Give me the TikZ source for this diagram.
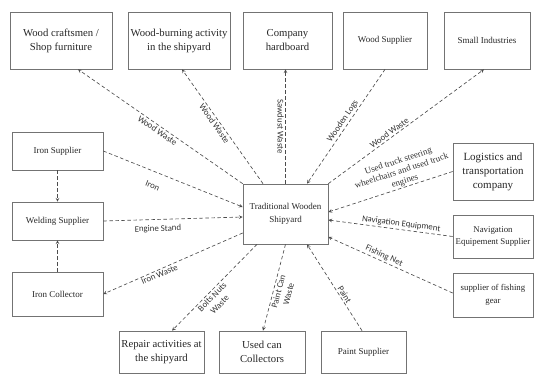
\documentclass[tikz,border=0pt]{standalone}
\usepackage{fontspec}
\setmainfont{Liberation Serif}
\newfontfamily\lblfont{Carlito}
\begin{document}
\begin{tikzpicture}[>=stealth, x=1pt, y=-1pt,
    box/.style={draw=black!55, line width=.7pt, align=center, inner sep=2pt, text=black!85},
    flow/.style={->, draw=black!70, line width=.65pt, dash pattern=on 3.5pt off 2.5pt},
    lbl/.style={font=\lblfont\fontsize{8.8}{10.5}\selectfont, text=black!80, inner sep=1.5pt}]
    \useasboundingbox (0,0) rectangle (534,375);

    % top row
    \node[box, minimum width=102pt, minimum height=57pt, font=\fontsize{10.7}{14}\selectfont] (craft) at (61,40.5) {Wood craftsmen /\\Shop furniture};
    \node[box, minimum width=102pt, minimum height=57pt, font=\fontsize{10.7}{14}\selectfont] (burn) at (179,40.5) {Wood-burning activity\\in the shipyard};
    \node[box, minimum width=89pt, minimum height=57pt, font=\fontsize{10.7}{14}\selectfont] (hard) at (287.5,40.5) {Company\\hardboard};
    \node[box, minimum width=84pt, minimum height=57pt, font=\fontsize{9}{11}\selectfont] (wsup) at (385,40.5) {Wood Supplier};
    \node[box, minimum width=86pt, minimum height=57pt, font=\fontsize{9}{11}\selectfont] (small) at (487,40.5) {Small Industries};

    % left column
    \node[box, minimum width=91pt, minimum height=38pt, font=\fontsize{9}{11}\selectfont] (ironsup) at (57.5,151) {Iron Supplier};
    \node[box, minimum width=91pt, minimum height=38pt, font=\fontsize{9}{11}\selectfont] (weld) at (57.5,221) {Welding Supplier};
    \node[box, minimum width=91pt, minimum height=44pt, font=\fontsize{9}{11}\selectfont] (coll) at (57.5,294) {Iron Collector};

    % centre
    \node[box, minimum width=85pt, minimum height=60pt, font=\fontsize{9}{12.5}\selectfont] (ship) at (285.5,214) {Traditional Wooden\\Shipyard};

    % right column
    \node[box, minimum width=80pt, minimum height=57pt, font=\fontsize{11}{14}\selectfont] (logis) at (493,171.5) {Logistics and\\transportation\\company};
    \node[box, minimum width=80pt, minimum height=43pt, font=\fontsize{8.8}{12.5}\selectfont] (nav) at (493,236.5) {Navigation\\Equipement Supplier};
    \node[box, minimum width=80pt, minimum height=44pt, font=\fontsize{8.8}{12.5}\selectfont] (fish) at (493,295) {supplier of fishing\\gear};

    % bottom row
    \node[box, minimum width=85pt, minimum height=42pt, font=\fontsize{10.7}{14}\selectfont] (repair) at (161.5,352) {Repair activities at\\the shipyard};
    \node[box, minimum width=86pt, minimum height=42pt, font=\fontsize{10.7}{14}\selectfont] (usedcan) at (262,352) {Used can\\Collectors};
    \node[box, minimum width=85pt, minimum height=42pt, font=\fontsize{9}{11}\selectfont] (paint) at (363.5,352) {Paint Supplier};

    % flows out of the shipyard (top)
    \draw[flow] (ship.north west) -- node[lbl, midway, sloped, below] {Wood Waste} ([xshift=17pt]craft.south);
    \draw[flow] ([xshift=-22.5pt]ship.north) -- node[lbl, pos=.55, sloped, below] {Wood Waste} ([xshift=3pt]burn.south);
    \draw[flow] (ship.north) -- node[lbl, midway, rotate=-90, anchor=north] {Sawdust Waste} (ship.north |- hard.south);
    \draw[flow] (wsup.south) -- node[lbl, pos=.48, sloped, above] {Wooden Logs} ([xshift=21.5pt]ship.north);
    \draw[flow] (ship.north east) -- node[lbl, pos=.41, sloped, above] {Wood Waste} ([xshift=-3pt]small.south);

    % flows from the right
    \draw[flow] (logis.west) -- node[pos=.37, sloped, above, align=center, inner sep=1pt, font=\fontsize{9}{10.5}\selectfont, text=black!80] {Used truck steering\\wheelchairs and used truck\\engines} ([yshift=2pt]ship.east);
    \draw[flow] (nav.west) -- node[lbl, pos=.42, sloped, above] {Navigation Equipment} ([yshift=-6pt]ship.east);
    \draw[flow] ([yshift=2pt]fish.west) -- node[lbl, pos=.57, sloped, above] {Fishing Net} ([yshift=-23pt]ship.east);

    % flows at the bottom
    \draw[flow] ([xshift=-1.5pt]paint.north) -- node[lbl, pos=.39, sloped, above] {Paint} ([xshift=21.5pt]ship.south);
    \draw[flow] (ship.south) -- node[lbl, pos=.53, sloped, below, align=center] {Paint Can\\Waste} ([xshift=1pt]usedcan.north);
    \draw[flow] ([xshift=-28.5pt]ship.south) -- node[lbl, pos=.57, sloped, below, align=center] {Bolts Nuts\\Waste} ([xshift=10.5pt]repair.north);

    % flows on the left
    \draw[flow] ([yshift=-19pt]ship.west) -- node[lbl, pos=.61, sloped, below] {Iron Waste} (coll.east);
    \draw[flow] (ironsup.east) -- node[lbl, pos=.39, sloped, below=9pt] {Iron} ([yshift=7pt]ship.west);
    \draw[flow] (weld.east) -- node[lbl, pos=.39, sloped, below=4pt] {Engine Stand} ([yshift=-3pt]ship.west);
    \draw[flow] (ironsup.south) -- (weld.north);
    \draw[flow] (coll.north) -- (weld.south);
\end{tikzpicture}
\end{document}
